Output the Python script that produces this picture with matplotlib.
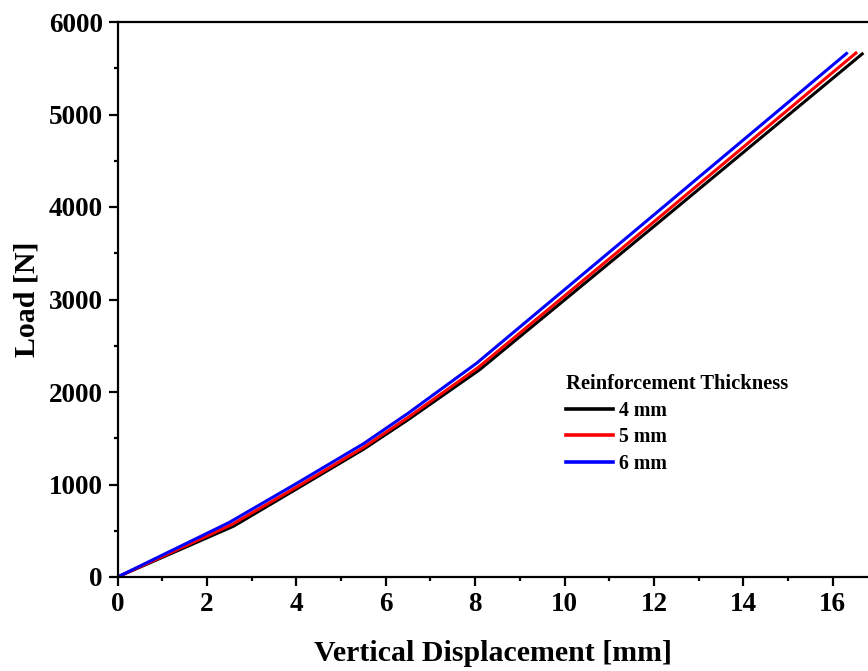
import matplotlib
matplotlib.use("Agg")
import matplotlib.pyplot as plt
from matplotlib.ticker import MultipleLocator

# Load-displacement curves for three reinforcement thicknesses
disp_4mm = [0, 2.6, 4.0, 5.5, 6.5, 8.1, 12.0, 16.66]
load_4mm = [0, 550, 950, 1380, 1700, 2240, 3790, 5655]

disp_5mm = [0, 2.55, 4.0, 5.5, 6.5, 8.07, 12.0, 16.52]
load_5mm = [0, 565, 970, 1400, 1725, 2265, 3840, 5665]

disp_6mm = [0, 2.5, 4.0, 5.5, 6.5, 8.03, 12.0, 16.31]
load_6mm = [0, 590, 1010, 1440, 1770, 2310, 3915, 5660]

series_labels = ["4 mm", "5 mm", "6 mm"]
series_colors = ["#000000", "#ff0000", "#0000ff"]
x_ticks = [0, 2, 4, 6, 8, 10, 12, 14, 16]
y_ticks = [0, 1000, 2000, 3000, 4000, 5000, 6000]

plt.rcParams["font.family"] = ["Liberation Serif", "DejaVu Serif"]
plt.rcParams["font.weight"] = "bold"

W, H = 868, 671
fig = plt.figure(figsize=(W / 100, H / 100), dpi=100)
ax = fig.add_axes([117.5 / W, (H - 577) / H, (W - 117.5) / W, (577 - 22) / H])

for xs, ys, lab, col in zip([disp_4mm, disp_5mm, disp_6mm],
                            [load_4mm, load_5mm, load_6mm],
                            series_labels, series_colors):
    ax.plot(xs, ys, color=col, lw=2.2, label=lab, solid_joinstyle="round")

ax.set_xlim(0, (W - 117.5) / 44.7)
ax.set_ylim(0, 6000)
ax.set_xticks(x_ticks)
ax.set_yticks(y_ticks)
ax.xaxis.set_minor_locator(MultipleLocator(1))
ax.yaxis.set_minor_locator(MultipleLocator(500))

for side in ["left", "bottom", "top"]:
    ax.spines[side].set_linewidth(1.6)
ax.spines["right"].set_visible(False)

ax.tick_params(which="major", direction="out", length=6.5, width=1.6,
               labelsize=19.5, pad=4)
ax.tick_params(which="minor", direction="out", length=3, width=1.6)
ax.tick_params(top=False, right=False, which="both")
for t in ax.get_xticklabels() + ax.get_yticklabels():
    t.set_fontweight("bold")

ax.set_xlabel("Vertical Displacement [mm]", fontsize=21.5, fontweight="bold", labelpad=17)
ax.set_ylabel("Load [N]", fontsize=21.5, fontweight="bold", labelpad=6)

leg = ax.legend(title="Reinforcement Thickness", frameon=False,
                loc="upper left", bbox_to_anchor=(566 / W, 1 - 374 / H),
                bbox_transform=fig.transFigure,
                prop={"size": 14.3, "weight": "bold"},
                title_fontproperties={"size": 14.8, "weight": "bold"},
                handlelength=2.35, handletextpad=0.3, labelspacing=0.33,
                borderpad=0, borderaxespad=0, alignment="left")
for line in leg.get_lines():
    line.set_linewidth(2.6)

fig.savefig("out.png", dpi=100)
